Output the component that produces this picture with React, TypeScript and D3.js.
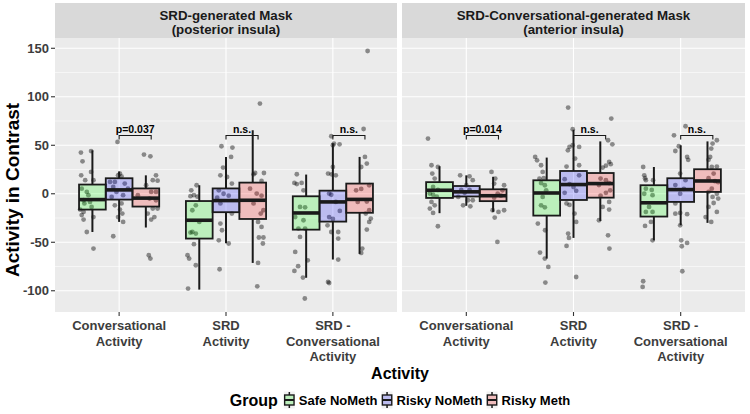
import React from 'react';
import * as d3 from 'd3';

// ---------- data ----------
const panelTitles = ["SRD-generated Mask\n(posterior insula)", "SRD-Conversational-generated Mask\n(anterior insula)"];
const categories = ["Conversational\nActivity", "SRD\nActivity", "SRD -\nConversational\nActivity"];
const groups = ["Safe NoMeth", "Risky NoMeth", "Risky Meth"];
const groupFills = ["rgba(0,255,0,0.2)", "rgba(0,0,255,0.2)", "rgba(255,0,0,0.2)"];
const yTicks = [-100, -50, 0, 50, 100, 150];
const yMinor = [-75, -25, 25, 75, 125];
const yDomain = [-121.9, 160.6];

// box stats per category, per group: [lower whisker, Q1, median, Q3, upper whisker]
const statsPosterior = [
  [[-39.4, -16.3, -6, 9.5, 44.8], [-29, -6, 4, 16, 23], [-34.8, -13.2, -4.5, 5.5, 19]],
  [[-98.8, -46.2, -27.3, -7.5, 8.8], [-51, -19, -7, 5.5, 38], [-71.3, -26, -6.7, 11.5, 65.5]],
  [[-86.6, -37, -19.8, -2.6, 19.8], [-67.8, -28.7, -8.4, 3.2, 52], [-62, -19.6, -5.8, 10.5, 38]],
];
const statsAnterior = [
  [[-20, -4.3, 3.6, 12, 28.4], [-12.4, -2.8, 2, 8, 19], [-18.7, -7.6, -2, 4.6, 17.5]],
  [[-66.8, -22.5, 0.8, 13.9, 37.3], [-45.5, -6.4, 9.5, 23.5, 66], [-28, -4, 10.5, 21.4, 54]],
  [[-48, -23.5, -9.3, 8.8, 27.6], [-32.5, -8.4, 4.3, 16, 50], [-30, 1.9, 13.2, 25.3, 54]],
];

// jittered observations: [jitter (fraction of box width), value]
const postConv = [
  [[-0.43, 42.5], [-0.37, 33.5], [-0.05, 44], [-0.05, 22.5], [-0.42, 19], [-0.27, 14], [0.04, 14], [-0.4, 5.3], [-0.21, 1.9], [-0.15, -1.5], [-0.33, -6.7], [-0.09, -8.4], [-0.3, -10], [-0.03, -13.6], [-0.46, -16.3], [-0.33, -18.7], [-0.4, -22], [0.04, -24], [-0.33, -26.6], [-0.21, -39.4], [0.04, -56.5]],
  [[-0.06, 53.4], [0.03, 20.8], [-0.04, 19], [0.09, 18], [-0.34, 12.2], [-0.16, 12.2], [0.21, 10.5], [-0.22, 7], [0.33, 5.3], [-0.1, 1.9], [0.15, -1.5], [-0.28, -3.3], [0.09, -10], [-0.16, -11.9], [0.03, -16.3], [0.12, -20.4], [-0.04, -24], [0.15, -29], [-0.22, -43.8]],
  [[-0.07, 40.4], [0.17, 38.6], [0.38, 19], [0.26, 14], [0.44, 13.5], [0.01, 8.8], [0.2, 1.9], [0.38, 1.9], [-0.3, -1.5], [0.14, -5], [0.38, -6.7], [0.26, -15.3], [0.44, -15.3], [0.07, -20.4], [0.32, -24], [0.2, -26.6], [0.11, -63.4], [0.17, -66.8]],
];
const postSrd = [
  [[-0.1, 8.8], [-0.3, 3.6], [-0.2, -1.5], [-0.33, -2.5], [-0.07, -3], [-0.13, -11.9], [-0.26, -17], [0, -29], [-0.26, -39.4], [-0.13, -41], [-0.33, -40], [-0.2, -52], [-0.44, -63.4], [-0.38, -66.8], [-0.13, -73.7], [-0.42, -97.7]],
  [[-0.17, 49], [0.24, 47.6], [0.19, 38], [-0.11, 27], [-0.21, 19], [0.04, 17.3], [0.22, 10.5], [-0.27, 3.6], [-0.09, 0], [0.1, -2], [-0.33, -4], [-0.21, -10], [0.22, -20.4], [-0.21, -30.7], [-0.15, -37.6], [-0.27, -48], [0.1, -51.3], [-0.24, -77.8]],
  [[0.27, 93], [0.09, 21.4], [0.03, 20], [0.42, 21.4], [0.33, 13.2], [-0.1, 5.3], [0.15, 0.2], [0.33, -2], [0.03, -10], [0.4, -17], [0.3, -20.4], [0.2, -29], [0.33, -34.2], [0.23, -45.1], [0.4, -45.1], [0.38, -51.3], [0.2, -71.3], [0.17, -95.4]],
];
const postDiff = [
  [[-0.35, 20.1], [-0.44, 11.2], [-0.35, 10], [-0.17, 11.2], [-0.1, 3.6], [-0.23, -13.6], [-0.04, -14], [-0.41, -24], [-0.1, -27.3], [-0.29, -35.9], [-0.04, -35.9], [-0.23, -44.5], [-0.41, -60], [0.06, -68.6], [-0.3, -74.7], [-0.44, -79.6], [-0.12, -86.4], [-0.05, -108]],
  [[-0.06, 59.3], [0.04, 51.7], [0, 50], [0.25, 51], [0, 27.6], [-0.18, 20.8], [-0.05, 20], [0.11, 19], [-0.14, 0.2], [-0.06, -1], [0.11, -8.4], [0.26, -17.7], [-0.14, -24], [0, -26], [-0.2, -32.5], [-0.06, -39.4], [0.2, -39.4], [0.2, -46.2], [0.2, -67.8], [-0.18, -90.9], [-0.14, -92]],
  [[0.3, 147.2], [0.15, 66.8], [0.2, 38], [0.27, 31.1], [0.06, 27.6], [0.36, 8.8], [-0.13, 3.6], [0.06, 5], [-0.07, -8.4], [0.27, -8], [0.36, -17], [0.23, -20.4], [0.42, -25.6], [0.36, -29], [0.27, -36.9], [0.1, -56.5], [0.06, -61]],
];
const antConv = [
  [[-0.43, 56.9], [-0.3, 29.4], [-0.06, 27.6], [-0.27, 20.8], [-0.18, 15.7], [-0.24, 7], [-0.06, 4], [-0.36, 0.2], [-0.24, -1], [-0.1, -3], [-0.3, -8.4], [-0.18, -11.9], [-0.36, -15.3], [-0.24, -19.8], [-0.06, -33.5]],
  [[-0.23, 19], [0.12, 18], [0.24, 14], [0, 8.8], [-0.19, 4], [0.12, 4], [-0.06, 1], [-0.3, -3.3], [0.06, -6.7], [-0.12, -11.9], [0.15, -12.9], [0.24, -6.7]],
  [[-0.06, 22.5], [0.08, 15.7], [0.04, 10.5], [0.41, 8.8], [0.35, 3.6], [0.17, 0], [0.29, -2], [0.04, -4], [-0.02, -17], [0.2, -18.7], [0.41, -17], [0.06, -24.5], [0.16, -49.7]],
];
const antSrd = [
  [[-0.43, 38], [-0.36, 34.5], [-0.21, 29.4], [-0.15, 22.5], [-0.27, 15.7], [-0.11, 16], [-0.21, 11], [-0.07, 8.8], [-0.02, 3.6], [-0.15, -3.3], [-0.21, -11.9], [-0.07, -14], [-0.33, -30.7], [-0.06, -37.6], [-0.25, -60.6], [-0.07, -66.8], [0.06, -75.4], [-0.05, -91.6]],
  [[-0.2, 88.9], [-0.03, 66.5], [-0.15, 48.3], [-0.03, 50], [0.21, 48.3], [-0.21, 44.8], [0.06, 36.3], [0.21, 29.4], [-0.26, 28], [0.21, 19], [-0.33, 15], [-0.15, 10], [0, 7], [-0.33, 1], [0.1, 3], [-0.26, -10], [-0.15, -11.5], [0.04, -20.4], [0.1, -29], [-0.2, -41], [-0.17, -45.5], [-0.26, -53.8], [0.1, -85.8]],
  [[0.41, 77.5], [0.29, 55.2], [0.45, 51], [0.33, 32.8], [0.21, 29], [0.39, 30.5], [0.09, 27], [0.01, 15.7], [0.21, 14], [0.33, 11], [-0.05, 9], [0.37, 3.6], [0.21, 1], [0.01, -2], [0.33, -8.4], [0.09, -13.6], [0.33, -16.3], [-0.05, -27.3], [0.29, -42.8], [0.34, -56.5]],
];
const antDiff = [
  [[-0.4, 27.6], [-0.36, 19], [-0.33, 16], [-0.3, 14], [-0.03, 14], [-0.3, 5.3], [-0.08, 4], [-0.36, 0], [-0.05, -1.5], [-0.18, -13.6], [-0.3, -18.7], [-0.05, -18.7], [-0.11, -29], [-0.33, -33.2], [-0.05, -48], [-0.4, -90.2], [-0.42, -96]],
  [[0.18, 69.6], [-0.25, 60.3], [-0.07, 49], [-0.2, 44.1], [0.24, 38], [0.28, 35], [-0.02, 20.8], [0.18, 14], [-0.2, 9], [0.12, 5], [-0.02, 0], [-0.2, -10], [-0.02, -19.8], [0.24, -21], [-0.2, -20.5], [-0.02, -32.5], [0.02, -48], [0.24, -50.7], [0.04, -54.1], [0.06, -79.9]],
  [[0.35, 55.2], [0.19, 51.7], [0.14, 46.6], [0.1, 38], [0.04, 35], [0.16, 27.6], [0.35, 28], [0.23, 20.8], [0.04, 16], [0.28, 13], [0.4, 12], [0.16, 5.3], [0.04, 2], [0.35, 0], [0.19, -3.3], [0.4, -5], [0.23, -9.5], [0.04, -13.6], [0.35, -18.7], [-0.07, -24], [0.14, -29]],
];
const signifPosterior = ["p=0.037", "n.s.", "n.s."];
const signifAnterior = ["p=0.014", "n.s.", "n.s."];
const signifY = 60;

const panelStats = [statsPosterior, statsAnterior];
const panelPoints = [[postConv, postSrd, postDiff], [antConv, antSrd, antDiff]];
const panelSignif = [signifPosterior, signifAnterior];

// ---------- layout ----------
const W = 750, H = 414;
const FONT = "'Liberation Sans', Arial, Helvetica, sans-serif";
const panelX = [[55, 397], [402, 745]];
const stripTop = 3, panelTop = 38, panelBottom = 312;
const boxUnits = 0.25;
const AXIS_TEXT = "#3d3d3d";

function measure(text: string, font: string) {
  const c = document.createElement('canvas').getContext('2d')!;
  c.font = font;
  return c.measureText(text).width;
}

export default function App() {
  const y = d3.scaleLinear().domain(yDomain).range([panelBottom, panelTop]);

  const panelsEls = panelTitles.map((title, pi) => {
    const [x0, x1] = panelX[pi];
    const x = d3.scaleLinear().domain([0.4, 3.6]).range([x0, x1]);
    const bw = x(1 + boxUnits) - x(1);
    const stats = panelStats[pi];
    const pts = panelPoints[pi];
    const sig = panelSignif[pi];
    return (
      <g key={pi}>
        <rect x={x0} y={stripTop} width={x1 - x0} height={panelTop - stripTop} fill="#d9d9d9" />
        {title.split('\n').map((t, i) => (
          <text key={i} x={(x0 + x1) / 2} y={19.8 + i * 14.5} textAnchor="middle" fontFamily={FONT} fontWeight="bold" fontSize={13.3} fill="#1a1a1a">{t}</text>
        ))}
        <rect x={x0} y={panelTop} width={x1 - x0} height={panelBottom - panelTop} fill="#ebebeb" />
        {yMinor.map(v => <line key={'m' + v} x1={x0} x2={x1} y1={y(v)} y2={y(v)} stroke="#fff" strokeWidth={0.55} />)}
        {yTicks.map(v => <line key={'M' + v} x1={x0} x2={x1} y1={y(v)} y2={y(v)} stroke="#fff" strokeWidth={1.1} />)}
        {categories.map((_, ci) => <line key={'v' + ci} x1={x(ci + 1)} x2={x(ci + 1)} y1={panelTop} y2={panelBottom} stroke="#fff" strokeWidth={1.1} />)}
        {/* points */}
        {pts.map((cat, ci) => cat.map((grp, gi) => grp.map((p, k) => {
          const cx = x(ci + 1 + (gi - 1) * boxUnits) + p[0] * bw;
          return <circle key={`${ci}-${gi}-${k}`} cx={cx} cy={y(p[1])} r={2.4} fill="rgba(0,0,0,0.42)" />;
        })))}
        {/* boxes */}
        {stats.map((cat, ci) => cat.map((s, gi) => {
          const cx = x(ci + 1 + (gi - 1) * boxUnits);
          return (
            <g key={`b${ci}-${gi}`}>
              <line x1={cx} x2={cx} y1={y(s[4])} y2={y(s[3])} stroke="#1a1a1a" strokeWidth={2} />
              <line x1={cx} x2={cx} y1={y(s[1])} y2={y(s[0])} stroke="#1a1a1a" strokeWidth={2} />
              <rect x={cx - bw / 2} y={y(s[3])} width={bw} height={y(s[1]) - y(s[3])} fill={groupFills[gi]} stroke="#1a1a1a" strokeWidth={1.8} />
              <line x1={cx - bw / 2} x2={cx + bw / 2} y1={y(s[2])} y2={y(s[2])} stroke="#1a1a1a" strokeWidth={3.6} />
            </g>
          );
        }))}
        {/* significance brackets */}
        {sig.map((s, ci) => {
          const xa = x(ci + 1), xb = x(ci + 1.3), yy = y(signifY);
          return (
            <g key={'s' + ci}>
              <path d={`M${xa},${yy + 4}V${yy}H${xb}V${yy + 4}`} fill="none" stroke="#1a1a1a" strokeWidth={1.1} />
              <text x={(xa + xb) / 2} y={yy - 2.5} textAnchor="middle" fontFamily={FONT} fontWeight="bold" fontSize={10.5} fill="#000">{s}</text>
            </g>
          );
        })}
        {/* x ticks and labels */}
        {categories.map((c, ci) => (
          <g key={'xt' + ci}>
            <line x1={x(ci + 1)} x2={x(ci + 1)} y1={panelBottom} y2={panelBottom + 4} stroke="#333" strokeWidth={1.1} />
            {c.split('\n').map((t, li) => (
              <text key={li} x={x(ci + 1)} y={330 + li * 15.5} textAnchor="middle" fontFamily={FONT} fontWeight="bold" fontSize={13} fill={AXIS_TEXT}>{t}</text>
            ))}
          </g>
        ))}
      </g>
    );
  });

  // legend layout
  const groupFont = `bold 16px ${FONT}`;
  const itemFont = `bold 13px ${FONT}`;
  const keyW = 11, gapKeyText = 4, gapItems = 4, gapTitle = 6;
  const titleW = measure("Group", groupFont);
  const itemWs = groups.map(g => measure(g, itemFont));
  const totalW = titleW + gapTitle + itemWs.reduce((a, w) => a + keyW + gapKeyText + w, 0) + gapItems * (groups.length - 1);
  let lx = (panelX[0][0] + panelX[1][1]) / 2 - totalW / 2;
  const legendY = 400;
  const legendEls: any[] = [];
  legendEls.push(<text key="lt" x={lx} y={legendY + 5.5} fontFamily={FONT} fontWeight="bold" fontSize={16} fill="#000">Group</text>);
  lx += titleW + gapTitle;
  groups.forEach((g, gi) => {
    const kx = lx;
    legendEls.push(
      <g key={'lk' + gi}>
        <rect x={kx} y={legendY - 8.5} width={keyW} height={17} fill="#f2f2f2" />
        <line x1={kx + keyW / 2} x2={kx + keyW / 2} y1={legendY - 8} y2={legendY + 8} stroke="#1a1a1a" strokeWidth={1.5} />
        <rect x={kx + 0.8} y={legendY - 5} width={keyW - 1.6} height={10} fill="#ebebeb" stroke="none" />
        <rect x={kx + 0.8} y={legendY - 5} width={keyW - 1.6} height={10} fill={groupFills[gi]} stroke="#1a1a1a" strokeWidth={1.4} />
        <line x1={kx + 0.8} x2={kx + keyW - 0.8} y1={legendY} y2={legendY} stroke="#1a1a1a" strokeWidth={2} />
        <text x={kx + keyW + gapKeyText} y={legendY + 4.5} fontFamily={FONT} fontWeight="bold" fontSize={13} fill="#000">{g}</text>
      </g>
    );
    lx += keyW + gapKeyText + itemWs[gi] + gapItems;
  });

  return (
    <svg width={W} height={H} style={{ position: 'absolute', left: 0, top: 0, background: '#fff' }}>
      <rect x={0} y={0} width={W} height={H} fill="#fff" />
      {panelsEls}
      {/* y axis */}
      {yTicks.map(v => (
        <g key={'yt' + v}>
          <line x1={panelX[0][0] - 4} x2={panelX[0][0]} y1={y(v)} y2={y(v)} stroke="#333" strokeWidth={1.1} />
          <text x={panelX[0][0] - 6} y={y(v) + 4.5} textAnchor="end" fontFamily={FONT} fontWeight="bold" fontSize={13} fill={AXIS_TEXT}>{v}</text>
        </g>
      ))}
      <text transform={`translate(18.5,190) rotate(-90)`} textAnchor="middle" fontFamily={FONT} fontWeight="bold" fontSize={19} fill="#000">Activity in Contrast</text>
      <text x={(panelX[0][0] + panelX[1][1]) / 2} y={379} textAnchor="middle" fontFamily={FONT} fontWeight="bold" fontSize={16} fill="#000">Activity</text>
      {legendEls}
    </svg>
  );
}
